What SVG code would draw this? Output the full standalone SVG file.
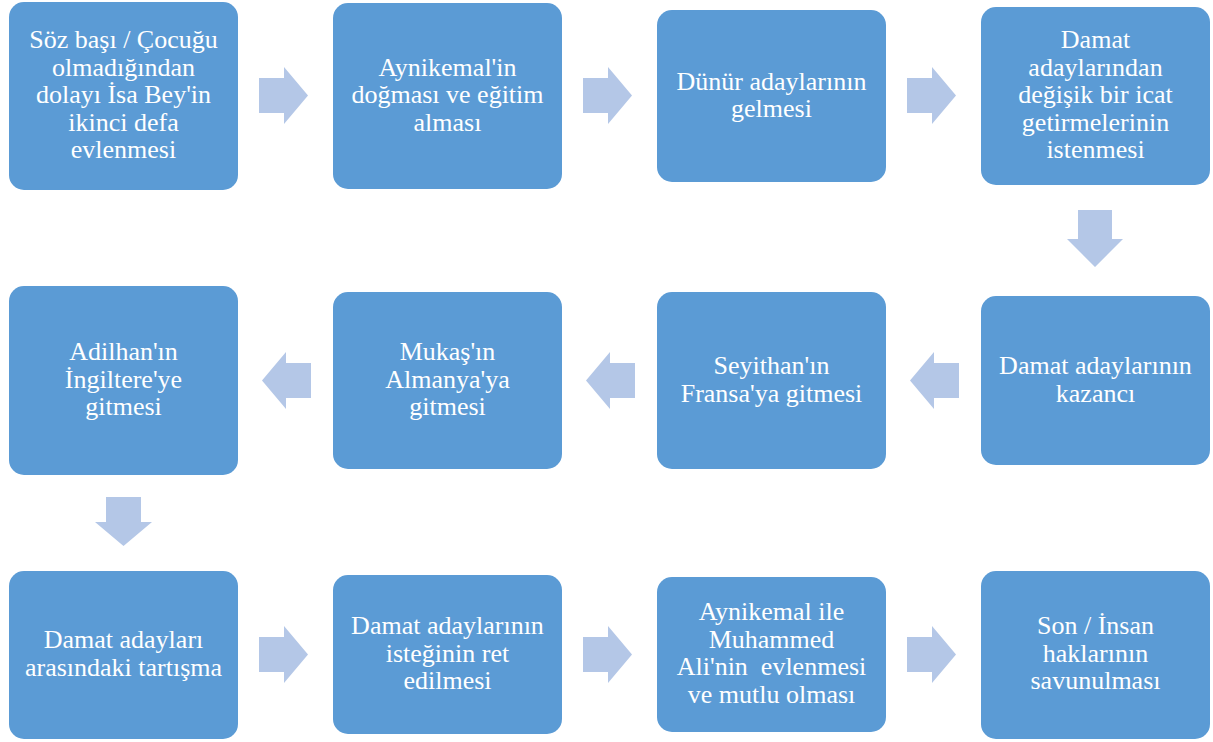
<svg xmlns="http://www.w3.org/2000/svg" width="1213" height="742" viewBox="0 0 1213 742">
<style>
.box{fill:#5B9BD5}
.arr{fill:#B4C7E7}
</style>
<rect width="1213" height="742" fill="#FFFFFF"/>
<g id="connectors">
<polygon class="arr" points="259,78 284,78 284,67 308,95.5 284,124 284,113 259,113"/>
<polygon class="arr" points="583,78 608,78 608,67 632,95.5 608,124 608,113 583,113"/>
<polygon class="arr" points="907,78 932,78 932,67 956,95.5 932,124 932,113 907,113"/>
<polygon class="arr" points="1078,210 1112,210 1112,239 1123,239 1095,267 1067,239 1078,239"/>
<polygon class="arr" points="959,363 934,363 934,352 910,380.5 934,409 934,398 959,398"/>
<polygon class="arr" points="635,363 610,363 610,352 586,380.5 610,409 610,398 635,398"/>
<polygon class="arr" points="311,363 286,363 286,352 262,380.5 286,409 286,398 311,398"/>
<polygon class="arr" points="106,497 141,497 141,522 152,522 123.5,546 95,522 106,522"/>
<polygon class="arr" points="259,637 284,637 284,626 308,654.5 284,683 284,672 259,672"/>
<polygon class="arr" points="583,637 608,637 608,626 632,654.5 608,683 608,672 583,672"/>
<polygon class="arr" points="907,637 932,637 932,626 956,654.5 932,683 932,672 907,672"/>
</g>
<g font-family="Times New Roman, Liberation Serif, Tinos, serif" font-size="26" fill="#FFFFFF" text-anchor="middle">
<g id="n1"><rect class="box" x="9" y="2" width="229" height="188" rx="15"/>
<text x="123.5" y="48">Söz başı / Çocuğu</text><text x="123.5" y="75.5">olmadığından</text><text x="123.5" y="103">dolayı İsa Bey'in</text><text x="123.5" y="130.5">ikinci defa</text><text x="123.5" y="158">evlenmesi</text></g>
<g id="n2"><rect class="box" x="333" y="3" width="229" height="186" rx="15"/>
<text x="447.5" y="75.5">Aynikemal'in</text><text x="447.5" y="103">doğması ve eğitim</text><text x="447.5" y="130.5">alması</text></g>
<g id="n3"><rect class="box" x="657" y="10" width="229" height="172" rx="15"/>
<text x="771.5" y="89.5">Dünür adaylarının</text><text x="771.5" y="117">gelmesi</text></g>
<g id="n4"><rect class="box" x="981" y="7" width="229" height="178" rx="15"/>
<text x="1095.5" y="48">Damat</text><text x="1095.5" y="75.5">adaylarından</text><text x="1095.5" y="103">değişik bir icat</text><text x="1095.5" y="130.5">getirmelerinin</text><text x="1095.5" y="158">istenmesi</text></g>
<g id="n5"><rect class="box" x="981" y="296" width="229" height="169" rx="15"/>
<text x="1095.5" y="374">Damat adaylarının</text><text x="1095.5" y="401.5">kazancı</text></g>
<g id="n6"><rect class="box" x="657" y="292" width="229" height="177" rx="15"/>
<text x="771.5" y="374">Seyithan'ın</text><text x="771.5" y="401.5">Fransa'ya gitmesi</text></g>
<g id="n7"><rect class="box" x="333" y="292" width="229" height="177" rx="15"/>
<text x="447.5" y="360">Mukaş'ın</text><text x="447.5" y="387.5">Almanya'ya</text><text x="447.5" y="415">gitmesi</text></g>
<g id="n8"><rect class="box" x="9" y="286" width="229" height="189" rx="15"/>
<text x="123.5" y="360">Adilhan'ın</text><text x="123.5" y="387.5">İngiltere'ye</text><text x="123.5" y="415">gitmesi</text></g>
<g id="n9"><rect class="box" x="9" y="571" width="229" height="168" rx="15"/>
<text x="123.5" y="648">Damat adayları</text><text x="123.5" y="675.5">arasındaki tartışma</text></g>
<g id="n10"><rect class="box" x="333" y="575" width="229" height="159" rx="15"/>
<text x="447.5" y="634">Damat adaylarının</text><text x="447.5" y="661.5">isteğinin ret</text><text x="447.5" y="689">edilmesi</text></g>
<g id="n11"><rect class="box" x="657" y="577" width="229" height="155" rx="15"/>
<text x="771.5" y="620">Aynikemal ile</text><text x="771.5" y="647.5">Muhammed</text><text x="771.5" y="675" xml:space="preserve">Ali'nin  evlenmesi</text><text x="771.5" y="702.5">ve mutlu olması</text></g>
<g id="n12"><rect class="box" x="981" y="571" width="229" height="168" rx="15"/>
<text x="1095.5" y="634">Son / İnsan</text><text x="1095.5" y="661.5">haklarının</text><text x="1095.5" y="689">savunulması</text></g>
</g>
</svg>
